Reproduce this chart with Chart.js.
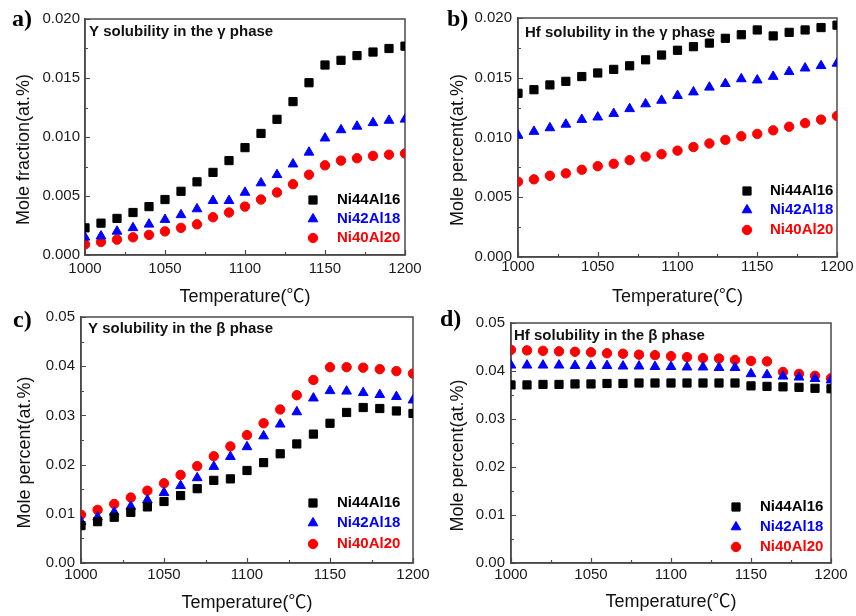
<!DOCTYPE html>
<html>
<head>
<meta charset="utf-8">
<script src="https://cdn.jsdelivr.net/npm/chart.js"></script>
<style>
  html, body { margin: 0; padding: 0; background: #fff; }
  #wrap { position: relative; width: 856px; height: 616px; }
  #wrap canvas { position: absolute; left: 0; top: 0; }
</style>
</head>
<body>
<div id="wrap">
  <canvas id="chartA" width="856" height="616"></canvas>
  <canvas id="chartB" width="856" height="616"></canvas>
  <canvas id="chartC" width="856" height="616"></canvas>
  <canvas id="chartD" width="856" height="616"></canvas>
</div>
<script>
// temperatures (°C), shared by all four panels
const temps = [1000, 1010, 1020, 1030, 1040, 1050, 1060, 1070, 1080, 1090, 1100,
               1110, 1120, 1130, 1140, 1150, 1160, 1170, 1180, 1190, 1200];
const seriesNames = ['Ni44Al16', 'Ni42Al18', 'Ni40Al20'];

// a) Y solubility in the gamma phase
const yGamma44 = [0.0023, 0.0027, 0.0031, 0.0036, 0.0041, 0.0047, 0.0054, 0.0062, 0.0070, 0.0080, 0.0091,
                  0.0103, 0.0115, 0.0130, 0.0146, 0.0161, 0.0165, 0.0169, 0.0172, 0.0175, 0.0177];
const yGamma42 = [0.0015, 0.0016, 0.0020, 0.0023, 0.0026, 0.0030, 0.0034, 0.0039, 0.0046, 0.0046, 0.0053,
                  0.0061, 0.0068, 0.0077, 0.0087, 0.0099, 0.0106, 0.0109, 0.0112, 0.0114, 0.0115];
const yGamma40 = [0.0009, 0.0011, 0.0013, 0.0015, 0.0017, 0.0020, 0.0023, 0.0026, 0.0032, 0.0036, 0.0041,
                  0.0047, 0.0053, 0.0060, 0.0068, 0.0076, 0.0080, 0.0082, 0.0084, 0.0085, 0.0086];

// b) Hf solubility in the gamma phase
const hfGamma44 = [0.0137, 0.0140, 0.0144, 0.0147, 0.0151, 0.0154, 0.0157, 0.0160, 0.0165, 0.0169, 0.0173,
                   0.0176, 0.0179, 0.0183, 0.0186, 0.0190, 0.0185, 0.0188, 0.0190, 0.0192, 0.0194];
const hfGamma42 = [0.0102, 0.0105, 0.0108, 0.0111, 0.0115, 0.0117, 0.0120, 0.0124, 0.0128, 0.0131, 0.0135,
                   0.0138, 0.0142, 0.0145, 0.0149, 0.0148, 0.0151, 0.0155, 0.0158, 0.0160, 0.0162];
const hfGamma40 = [0.0063, 0.0065, 0.0068, 0.0070, 0.0073, 0.0076, 0.0078, 0.0081, 0.0084, 0.0086, 0.0089,
                   0.0092, 0.0095, 0.0098, 0.0101, 0.0103, 0.0106, 0.0109, 0.0112, 0.0115, 0.0118];

// c) Y solubility in the beta phase
const yBeta44 = [0.0076, 0.0084, 0.0093, 0.0103, 0.0114, 0.0125, 0.0137, 0.0151, 0.0168, 0.0171, 0.0188,
                 0.0204, 0.0222, 0.0242, 0.0262, 0.0284, 0.0306, 0.0316, 0.0314, 0.0309, 0.0304];
const yBeta42 = [0.0084, 0.0093, 0.0103, 0.0115, 0.0128, 0.0143, 0.0157, 0.0173, 0.0196, 0.0216, 0.0236,
                 0.0258, 0.0282, 0.0307, 0.0335, 0.0350, 0.0349, 0.0346, 0.0342, 0.0338, 0.0331];
const yBeta40 = [0.0098, 0.0108, 0.0120, 0.0133, 0.0147, 0.0162, 0.0179, 0.0197, 0.0217, 0.0237, 0.0260,
                 0.0284, 0.0312, 0.0341, 0.0372, 0.0398, 0.0398, 0.0397, 0.0394, 0.0390, 0.0385];

// d) Hf solubility in the beta phase
const hfBeta44 = [0.0371, 0.0371, 0.0372, 0.0372, 0.0373, 0.0373, 0.0374, 0.0374, 0.0375, 0.0375, 0.0375,
                  0.0375, 0.0375, 0.0375, 0.0375, 0.0369, 0.0368, 0.0367, 0.0366, 0.0364, 0.0363];
const hfBeta42 = [0.0412, 0.0412, 0.0412, 0.0412, 0.0411, 0.0411, 0.0411, 0.0410, 0.0410, 0.0409, 0.0409,
                  0.0408, 0.0408, 0.0407, 0.0407, 0.0394, 0.0392, 0.0389, 0.0387, 0.0384, 0.0381];
const hfBeta40 = [0.0444, 0.0443, 0.0442, 0.0441, 0.0440, 0.0439, 0.0437, 0.0436, 0.0434, 0.0433, 0.0431,
                  0.0429, 0.0427, 0.0426, 0.0423, 0.0421, 0.0420, 0.0398, 0.0394, 0.0390, 0.0385];

const SANS = "'Liberation Sans', Arial, 'Noto Sans CJK SC', sans-serif";
const SERIF = "'Liberation Serif', 'Times New Roman', serif";
const INK = '#1a1a1a';
const AXIS = '#4a4a4a';
const seriesStyle = [
    { color: '#000000', pointStyle: 'rect', radius: 5.8 },
    { color: '#0000ff', pointStyle: 'triangle', radius: 5.6 },
    { color: '#ff0000', pointStyle: 'circle', radius: 4.7 }
];

// frame, inward ticks, panel letter, inner caption and in-plot legend
const panelDecor = {
    id: 'panelDecor',
    beforeDatasetsDraw(chart) {
        const { ctx, chartArea: a, scales } = chart;
        ctx.save();
        ctx.strokeStyle = AXIS;
        ctx.lineWidth = 1.5;
        ctx.strokeRect(a.left, a.top, a.right - a.left, a.bottom - a.top);

        ctx.lineWidth = 1.2;
        ctx.beginPath();
        scales.x.ticks.forEach(t => {
            const px = Math.round(scales.x.getPixelForValue(t.value)) + 0.5;
            const len = t.label === '' ? 3 : 5;
            ctx.moveTo(px, a.bottom);
            ctx.lineTo(px, a.bottom - len);
        });
        scales.y.ticks.forEach(t => {
            const py = Math.round(scales.y.getPixelForValue(t.value)) + 0.5;
            const len = t.label === '' ? 3 : 5;
            ctx.moveTo(a.left, py);
            ctx.lineTo(a.left + len, py);
        });
        ctx.stroke();
        ctx.restore();
    },
    afterDraw(chart, args, o) {
        const { ctx, chartArea: a } = chart;
        ctx.save();
        ctx.textBaseline = 'middle';
        ctx.textAlign = 'left';
        ctx.fillStyle = '#000';
        ctx.font = 'bold 24px ' + SERIF;
        ctx.fillText(o.letter, o.letterX, o.letterY);
        ctx.font = 'bold 15px ' + SANS;
        ctx.fillStyle = '#111';
        ctx.fillText(o.note, a.left + o.noteDx, a.top + o.noteDy);

        chart.data.datasets.forEach((ds, i) => {
            const y = a.bottom + o.rows[i];
            ctx.fillStyle = ds.backgroundColor;
            ctx.strokeStyle = ds.borderColor;
            Chart.helpers.drawPoint(ctx, {
                pointStyle: ds.pointStyle, radius: ds.pointRadius, rotation: 0, borderWidth: 1
            }, a.right + o.markDx, y);
            ctx.fillStyle = ds.backgroundColor;
            ctx.font = 'bold 15px ' + SANS;
            ctx.fillText(ds.label, a.right + o.textDx, y);
        });
        ctx.restore();
    }
};

function makePanel(id, p) {
    const W = 856, H = 616;
    const titleHalf = 10.8;
    const padLeft = p.yTitleX - titleHalf;
    const yWidth = p.box.l - padLeft;
    const xHeight = p.xTitleY + titleHalf - p.box.b;
    const padBottom = H - (p.xTitleY + titleHalf);

    const datasets = p.series.map((vals, i) => ({
        label: seriesNames[i],
        data: temps.map((t, k) => ({ x: t, y: vals[k] })),
        pointStyle: seriesStyle[i].pointStyle,
        pointRadius: seriesStyle[i].radius,
        backgroundColor: seriesStyle[i].color,
        borderColor: seriesStyle[i].color,
        pointBorderWidth: 1,
        showLine: false
    }));

    return new Chart(document.getElementById(id), {
        type: 'scatter',
        data: { datasets },
        plugins: [panelDecor],
        options: {
            responsive: false,
            animation: false,
            events: [],
            layout: {
                padding: { left: padLeft, top: p.box.t, right: W - p.box.r, bottom: padBottom }
            },
            scales: {
                x: {
                    type: 'linear',
                    min: 1000,
                    max: 1200,
                    afterFit: s => { s.height = xHeight; },
                    ticks: {
                        stepSize: 25,
                        autoSkip: false,
                        maxRotation: 0,
                        padding: p.xPad,
                        color: INK,
                        font: { family: SANS, size: 15 },
                        callback: v => (v % 50 === 0 ? String(v) : '')
                    },
                    grid: { display: false, drawTicks: false },
                    border: { color: AXIS, width: 1.5 },
                    title: {
                        display: true,
                        text: 'Temperature(℃)',
                        color: '#111',
                        padding: 0,
                        font: { family: SANS, size: 18 }
                    }
                },
                y: {
                    min: 0,
                    max: p.yMax,
                    afterFit: s => { s.width = yWidth; },
                    ticks: {
                        stepSize: p.yStep,
                        autoSkip: false,
                        padding: p.yGap,
                        color: INK,
                        font: { family: SANS, size: 15 },
                        callback: v => (Math.round(v / p.yStep) % 2 === 0 ? v.toFixed(p.decimals) : '')
                    },
                    grid: { display: false, drawTicks: false },
                    border: { color: AXIS, width: 1.5 },
                    title: {
                        display: true,
                        text: p.yTitle + '     ',
                        color: '#111',
                        padding: 0,
                        font: { family: SANS, size: 18 }
                    }
                }
            },
            plugins: {
                legend: { display: false },
                tooltip: { enabled: false },
                panelDecor: p.decor
            }
        }
    });
}

makePanel('chartA', {
    box: { l: 85, t: 19, r: 405, b: 255 }, yTitleX: 24, xTitleY: 297, xPad: 5, yGap: 5,
    yMax: 0.02, yStep: 0.0025, decimals: 3, yTitle: 'Mole fraction(at.%)',
    series: [yGamma44, yGamma42, yGamma40],
    decor: { letter: 'a)', letterX: 12, letterY: 20, note: 'Y solubility in the γ phase', noteDx: 4, noteDy: 13,
             markDx: -92, textDx: -68, rows: [-55, -36, -17] }
});

makePanel('chartB', {
    box: { l: 518, t: 18, r: 837, b: 257 }, yTitleX: 458, xTitleY: 297, xPad: 1, yGap: 6,
    yMax: 0.02, yStep: 0.0025, decimals: 3, yTitle: 'Mole percent(at.%)',
    series: [hfGamma44, hfGamma42, hfGamma40],
    decor: { letter: 'b)', letterX: 447, letterY: 20, note: 'Hf solubility in the γ phase', noteDx: 7, noteDy: 15,
             markDx: -90, textDx: -67, rows: [-66, -47, -27] }
});

makePanel('chartC', {
    box: { l: 81, t: 317, r: 413, b: 563 }, yTitleX: 25, xTitleY: 603, xPad: 3, yGap: 6,
    yMax: 0.05, yStep: 0.005, decimals: 2, yTitle: 'Mole percent(at.%)',
    series: [yBeta44, yBeta42, yBeta40],
    decor: { letter: 'c)', letterX: 13, letterY: 321, note: 'Y solubility in the β phase', noteDx: 7, noteDy: 12,
             markDx: -100, textDx: -76, rows: [-60, -40, -19] }
});

makePanel('chartD', {
    box: { l: 511, t: 323, r: 831, b: 563 }, yTitleX: 458, xTitleY: 602, xPad: 3, yGap: 6,
    yMax: 0.05, yStep: 0.005, decimals: 2, yTitle: 'Mole percent(at.%)',
    series: [hfBeta44, hfBeta42, hfBeta40],
    decor: { letter: 'd)', letterX: 440, letterY: 320, note: 'Hf solubility in the β phase', noteDx: 3, noteDy: 13,
             markDx: -95, textDx: -71, rows: [-56, -36, -16] }
});
</script>
</body>
</html>
